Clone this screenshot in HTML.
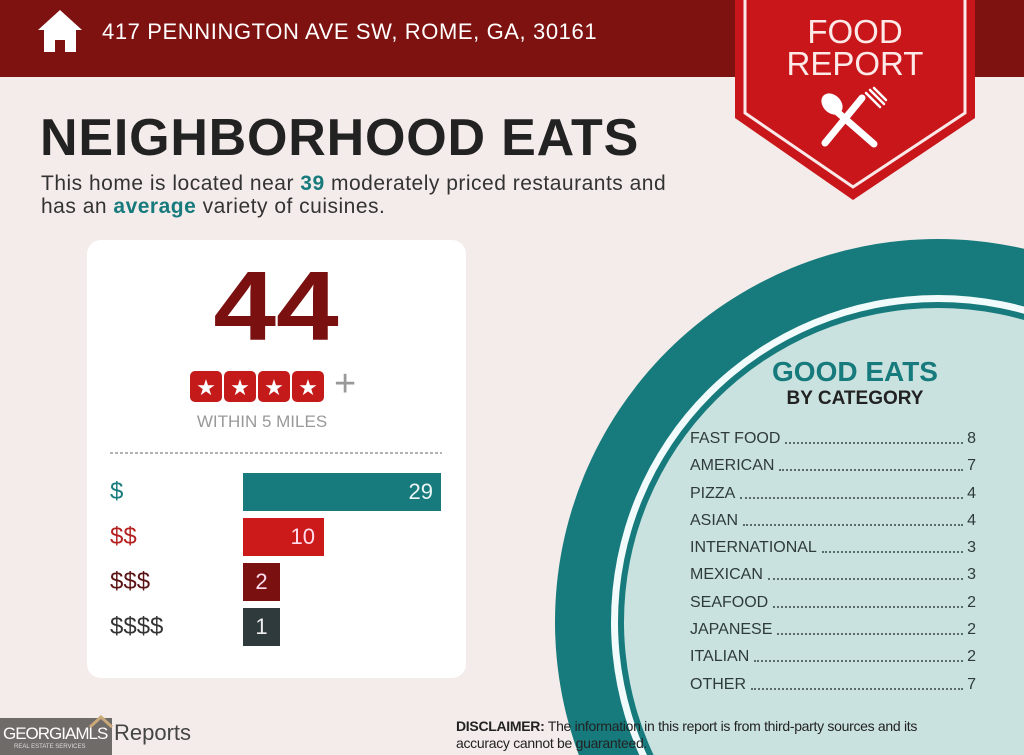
<!DOCTYPE html>
<html><head><meta charset="utf-8"><style>
*{margin:0;padding:0;box-sizing:border-box}
html,body{width:1024px;height:755px;overflow:hidden}
body{background:#f4ecea;font-family:"Liberation Sans",sans-serif;position:relative}
.a{position:absolute;white-space:nowrap}
.row{position:absolute;left:690px;width:286px;height:20px;font-size:16px;color:#2f3b3b;display:flex;align-items:flex-end}
.row .d{flex:1;border-bottom:2px dotted #5a6b6a;margin:0 4px 4px 5px}
</style></head><body>
<svg class="a" style="left:0;top:0" width="1024" height="755">
<rect x="0" y="0" width="1024" height="77" fill="#7e1210"/>
<circle cx="938" cy="622" r="383" fill="#177a7c"/>
<circle cx="938" cy="622" r="327" fill="#f2fbfb"/>
<circle cx="938" cy="622" r="320" fill="#177a7c"/>
<circle cx="938" cy="622" r="314" fill="#c9e2df"/>
<polygon points="735,0 975,0 975,118 853,200 735,118" fill="#c8161a"/>
<polyline points="745,0 745,113 853,187 965,113 965,0" fill="none" stroke="#fbe9e9" stroke-width="3"/>
<g stroke="#fff" stroke-linecap="round" fill="#fff">
<line x1="862" y1="98" x2="825" y2="143" stroke-width="7"/>
<line x1="835" y1="110" x2="874" y2="144" stroke-width="7"/>
<ellipse cx="832" cy="104" rx="9" ry="12" transform="rotate(-45 832 104)" stroke="none"/>
<path d="M866,93 L880,107 M870,90 L884,104 M874,88 L886,100" stroke-width="2.5"/>
</g>
<rect x="87" y="240" width="379" height="438" rx="14" fill="#fff"/>
<line x1="110" y1="453" x2="442" y2="453" stroke="#999" stroke-width="1.5" stroke-dasharray="3,2"/>
<rect x="243" y="473" width="198" height="38" fill="#177a7c"/>
<rect x="243" y="518" width="81" height="38" fill="#cc1a1a"/>
<rect x="243" y="563" width="37" height="38" fill="#7a1010"/>
<rect x="243" y="608" width="37" height="38" fill="#2f3a3c"/>
<g fill="#c41a1a">
<rect x="190" y="371" width="32" height="31" rx="5"/><rect x="224" y="371" width="32" height="31" rx="5"/><rect x="258" y="371" width="32" height="31" rx="5"/><rect x="292" y="371" width="32" height="31" rx="5"/>
</g>
<g fill="#fff" font-size="22" text-anchor="middle" font-family="DejaVu Sans">
<text x="206" y="395">★</text><text x="240" y="395">★</text><text x="274" y="395">★</text><text x="308" y="395">★</text>
</g>
<text x="276" y="340" text-anchor="middle" font-family="Liberation Sans" font-weight="bold" font-size="98" fill="#7a1010" transform="translate(276 0) scale(1.15 1) translate(-276 0)">44</text>
<path d="M38,30 L60,10 L82,30 L76,30 L76,52 L65,52 L65,40 L55,40 L55,52 L44,52 L44,30 Z" fill="#fff"/>
<rect x="0" y="718" width="112" height="37" fill="#6f6b69"/>
<path d="M90,727 L101,717 L112,727" fill="none" stroke="#c9a97a" stroke-width="3"/>
</svg>
<div class="a" style="left:102px;top:19px;font-size:22px;letter-spacing:0.6px;color:#fff">417 PENNINGTON AVE SW, ROME, GA, 30161</div>
<div class="a" style="left:745px;top:16px;width:220px;text-align:center;font-size:33px;line-height:32px;color:#fde9e8">FOOD<br>REPORT</div>
<div class="a" style="left:40px;top:108px;font-size:52px;font-weight:bold;letter-spacing:0.8px;color:#222">NEIGHBORHOOD EATS</div>
<div class="a" style="left:41px;top:172px;font-size:21px;line-height:23px;letter-spacing:0.5px;color:#333">This home is located near <b style="color:#177a7c">39</b> moderately priced restaurants and<br>has an <b style="color:#177a7c">average</b> variety of cuisines.</div>
<div class="a" style="left:334px;top:363px;font-size:38px;color:#999">+</div>
<div class="a" style="left:87px;top:412px;width:350px;text-align:center;font-size:17px;color:#999">WITHIN 5 MILES</div>
<div class="a" style="left:110px;top:478px;font-size:24px;color:#177a7c">$</div>
<div class="a" style="left:110px;top:523px;font-size:24px;color:#b52020">$$</div>
<div class="a" style="left:110px;top:568px;font-size:24px;color:#5a1414">$$$</div>
<div class="a" style="left:110px;top:613px;font-size:24px;color:#333">$$$$</div>
<div class="a" style="left:243px;top:479px;width:190px;text-align:right;font-size:22px;color:#eaf5f5">29</div>
<div class="a" style="left:243px;top:524px;width:72px;text-align:right;font-size:22px;color:#fde">10</div>
<div class="a" style="left:243px;top:569px;width:37px;text-align:center;font-size:22px;color:#fde">2</div>
<div class="a" style="left:243px;top:614px;width:37px;text-align:center;font-size:22px;color:#eee">1</div>
<div class="a" style="left:730px;top:356px;width:250px;text-align:center;font-size:28px;font-weight:bold;color:#177a7c">GOOD EATS</div>
<div class="a" style="left:730px;top:388px;width:250px;text-align:center;font-size:19px;font-weight:bold;color:#222">BY CATEGORY</div>
<div class="row" style="top:428px"><span>FAST FOOD</span><span class="d"></span><span>8</span></div>
<div class="row" style="top:455px"><span>AMERICAN</span><span class="d"></span><span>7</span></div>
<div class="row" style="top:483px"><span>PIZZA</span><span class="d"></span><span>4</span></div>
<div class="row" style="top:510px"><span>ASIAN</span><span class="d"></span><span>4</span></div>
<div class="row" style="top:537px"><span>INTERNATIONAL</span><span class="d"></span><span>3</span></div>
<div class="row" style="top:564px"><span>MEXICAN</span><span class="d"></span><span>3</span></div>
<div class="row" style="top:592px"><span>SEAFOOD</span><span class="d"></span><span>2</span></div>
<div class="row" style="top:619px"><span>JAPANESE</span><span class="d"></span><span>2</span></div>
<div class="row" style="top:646px"><span>ITALIAN</span><span class="d"></span><span>2</span></div>
<div class="row" style="top:674px"><span>OTHER</span><span class="d"></span><span>7</span></div>
<div class="a" style="left:3px;top:724px;font-size:17px;color:#fff;letter-spacing:-1px">GEORGIAMLS</div>
<div class="a" style="left:14px;top:744px;font-size:6px;line-height:7px;color:#ddd">REAL ESTATE SERVICES</div>
<div class="a" style="left:114px;top:720px;font-size:22px;color:#444">Reports</div>
<div class="a" style="left:456px;top:718px;font-size:14px;line-height:17px;color:#222;letter-spacing:-0.3px">
<b>DISCLAIMER:</b> The information in this report is from third-party sources and its<br>accuracy cannot be guaranteed.</div>
</body></html>
